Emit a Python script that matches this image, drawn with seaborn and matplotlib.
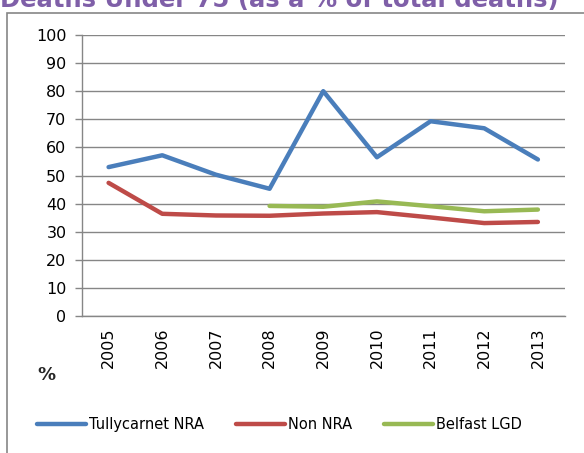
import matplotlib
matplotlib.use('Agg')
import matplotlib.pyplot as plt
from matplotlib.patches import Rectangle
import seaborn as sns
import pandas as pd
import numpy as np

# Data
years = ['2005', '2006', '2007', '2008', '2009', '2010', '2011', '2012', '2013']
tullycarnet = [53.0, 57.2, 50.3, 45.3, 80.0, 56.5, 69.3, 66.8, 55.7]
non_nra = [47.4, 36.4, 35.8, 35.7, 36.5, 37.0, 35.1, 33.1, 33.5]
belfast_lgd = [np.nan, np.nan, np.nan, 39.2, 38.9, 40.8, 39.1, 37.3, 37.9]
series_names = ['Tullycarnet NRA', 'Non NRA', 'Belfast LGD']
colors = ['#4A7EBB', '#BE4B48', '#98B954']

df = pd.DataFrame({
    'year': years * 3,
    'value': tullycarnet + non_nra + belfast_lgd,
    'series': np.repeat(series_names, len(years)),
})
df['pos'] = np.tile(np.arange(len(years)), 3)

sns.set_style('white')
plt.rcParams['font.family'] = ['DejaVu Sans']

fig = plt.figure(figsize=(5.84, 4.53), dpi=100)
ax = fig.add_axes([0.140, 0.302, 0.827, 0.621])

sns.lineplot(data=df, x='pos', y='value', hue='series', palette=colors,
             hue_order=series_names, linewidth=3.2, ax=ax, legend=False,
             solid_capstyle='round')

grid_c = '#868686'
ax.set_xlim(-0.5, len(years) - 0.5)
ax.set_ylim(0, 100)
ax.set_yticks(range(0, 101, 10))
ax.yaxis.grid(True, color=grid_c, linewidth=1)
ax.set_axisbelow(True)
ax.set_xticks(range(len(years)))
ax.set_xticklabels(years, rotation=90)
ax.set_xticks(np.arange(-0.5, len(years)), minor=True)
ax.tick_params(axis='x', which='major', length=0, pad=8, labelsize=11.5,
               labelcolor='black')
ax.tick_params(axis='x', which='minor', length=5, color=grid_c, width=1)
ax.tick_params(axis='y', length=5, color=grid_c, width=1, labelsize=11.5, pad=6,
               left=True, labelcolor='black')
ax.set_xlabel('')
ax.set_ylabel('')
for s in ['top', 'right']:
    ax.spines[s].set_visible(False)
for s in ['left', 'bottom']:
    ax.spines[s].set_color(grid_c)
    ax.spines[s].set_linewidth(1)

# outer chart frame
fig.patches.append(Rectangle((0.012, -0.2), 1.2, 1.171, transform=fig.transFigure,
                             fill=False, edgecolor=grid_c, linewidth=1.2))

# title (cropped at top in the reference)
fig.text(0.0, 0.984, 'Deaths Under 75 (as a % of total deaths)', color='#7F5FA8',
         fontsize=17.5, fontweight='bold', ha='left', va='baseline')

fig.text(0.080, 0.172, '%', fontsize=13, fontweight='bold', ha='center', va='center')

handles = [plt.Line2D([0], [0], color=c, linewidth=3.2, solid_capstyle='round') for c in colors]
leg = fig.legend(handles, series_names, loc='center', bbox_to_anchor=(0.478, 0.062), ncol=3,
                 frameon=False, fontsize=10.5, handlelength=3.4, handletextpad=0.15,
                 columnspacing=2.2)
for t in leg.get_texts():
    t.set_color('black')

fig.savefig('out.png', dpi=100)
